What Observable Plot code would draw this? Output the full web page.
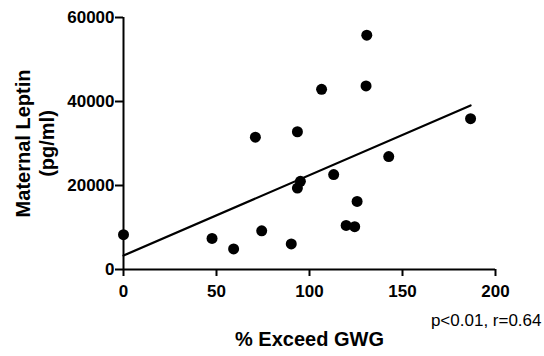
<!DOCTYPE html>
<html>
<head>
<meta charset="utf-8">
<script src="https://cdn.jsdelivr.net/npm/d3@7"></script>
<script src="https://cdn.jsdelivr.net/npm/@observablehq/plot@0.6"></script>
<style>
  html, body { margin: 0; padding: 0; background: #fff; }
  #chart { width: 544px; height: 356px; }
</style>
</head>
<body>
<div id="chart"></div>
<script>
// % Exceed GWG (x) and Maternal Leptin pg/ml (y)
const exceedGWG = [0, 47.6, 59.2, 70.9, 74.3, 90.2, 93.5, 93.5, 95.1, 106.5, 113, 119.7, 124.3, 125.6, 130.4, 130.8, 142.6, 186.6];
const leptin = [8300, 7400, 4900, 31500, 9200, 6100, 19400, 32800, 21000, 42900, 22600, 10500, 10200, 16200, 43700, 55800, 26900, 35900];
const xTicks = [0, 50, 100, 150, 200];
const yTicks = [0, 20000, 40000, 60000];
const xTitle = "% Exceed GWG";
const yTitle = "Maternal Leptin\n(pg/ml)";
const statsNote = "p<0.01, r=0.64";

const data = exceedGWG.map((x, i) => ({x, y: leptin[i]}));

const chart = Plot.plot({
  width: 544,
  height: 356,
  marginLeft: 123,
  marginRight: 49,
  marginTop: 17,
  marginBottom: 87,
  style: {fontFamily: "'Liberation Sans', Arial, sans-serif", fontSize: "17px", fontWeight: "bold", color: "black", background: "white"},
  x: {domain: [0, 200]},
  y: {domain: [0, 60000]},
  marks: [
    Plot.axisX({ticks: xTicks, tickSize: 7, tickPadding: 8, strokeWidth: 2, tickFormat: d3.format("d"), label: null}),
    Plot.axisY({ticks: yTicks, tickSize: 8, tickPadding: 1, strokeWidth: 2, tickFormat: d3.format("d"), label: null}),
    Plot.ruleX([0], {strokeWidth: 2}),
    Plot.ruleY([0], {strokeWidth: 2}),
    Plot.linearRegressionY(data, {x: "x", y: "y", ci: 0, stroke: "black", strokeWidth: 2.2}),
    Plot.dot(data, {x: "x", y: "y", r: 5.5, fill: "black", stroke: "none"}),
    Plot.text([xTitle], {frameAnchor: "bottom", dy: 76, fontSize: 20, fontWeight: "bold"}),
    Plot.text([statsNote], {frameAnchor: "bottom-right", textAnchor: "end", dx: 46, dy: 56, fontSize: 17, fontWeight: "normal"}),
    Plot.text([yTitle], {frameAnchor: "left", textAnchor: "middle", rotate: -90, dx: -89, lineHeight: 1.2, fontSize: 20, fontWeight: "bold"})
  ]
});
document.getElementById("chart").appendChild(chart);
</script>
</body>
</html>
